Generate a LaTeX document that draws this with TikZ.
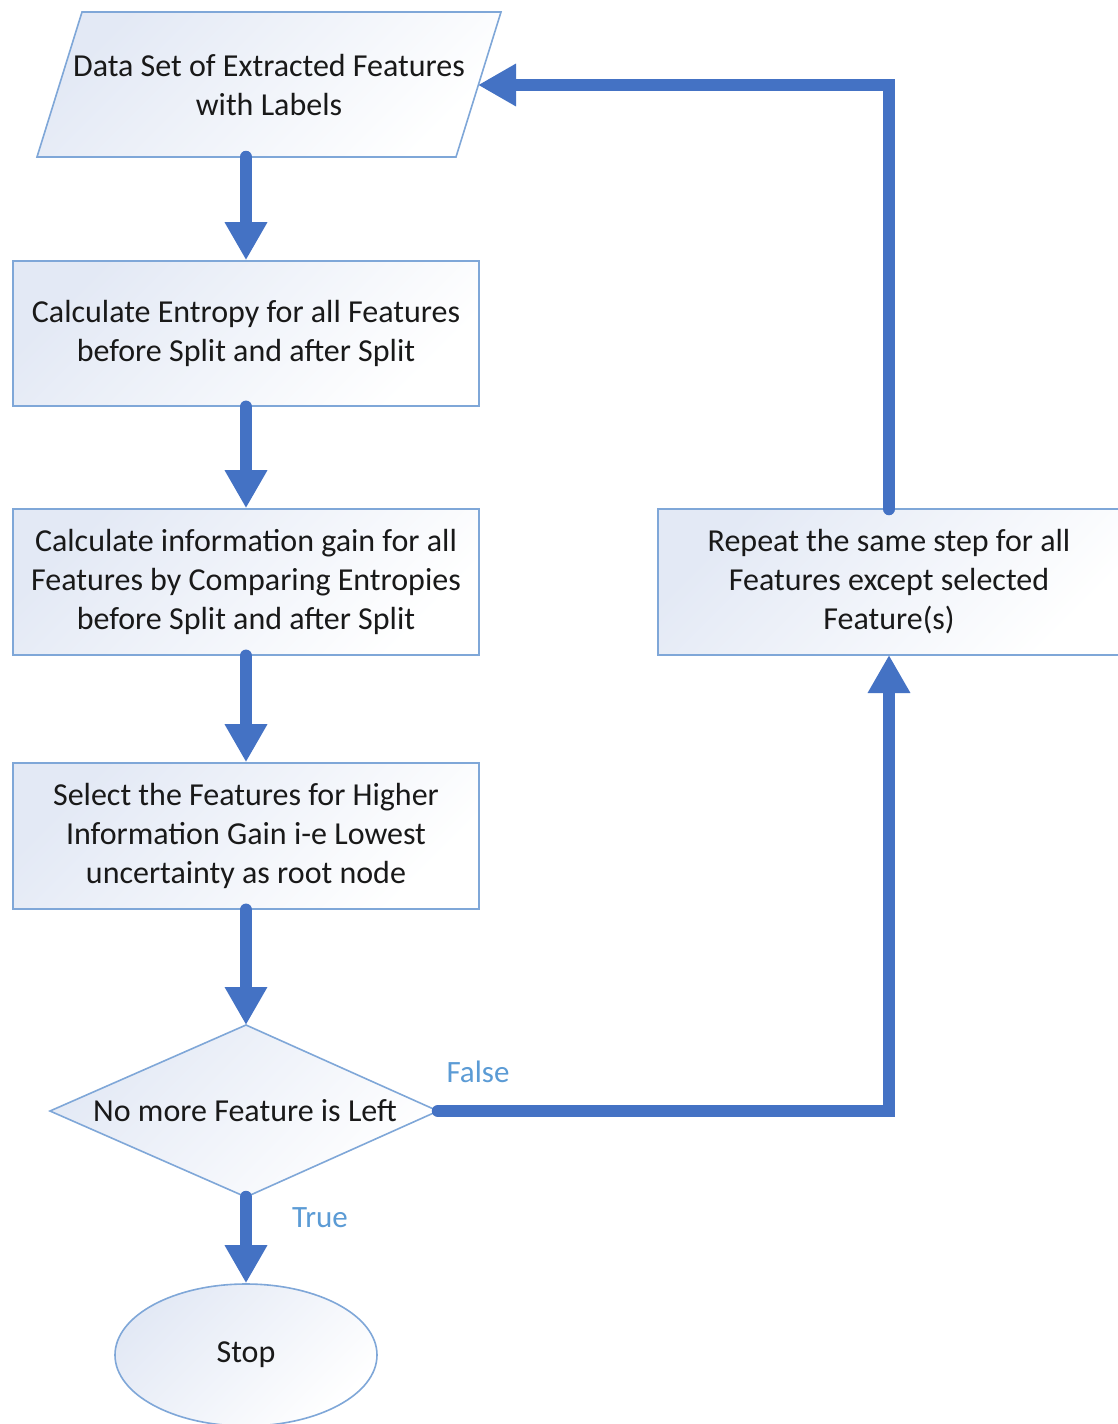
\documentclass[tikz,border=0pt]{standalone}
\usepackage{fontspec}
\setmainfont{Carlito}
\usetikzlibrary{arrows.meta,shapes.geometric}
\definecolor{arrowblue}{HTML}{4472C4}
\definecolor{edgeblue}{HTML}{7FA7D8}
\definecolor{fillblue}{HTML}{E3E9F5}
\definecolor{labelblue}{HTML}{5B9BD5}
\tikzset{
  shapefill/.style={draw=edgeblue, line width=1.6pt, top color=fillblue, bottom color=white, shading angle=45},
  txt/.style={align=center, font=\fontsize{32}{39}\selectfont, text=black!90},
  flow/.style={draw=arrowblue, line width=12.5pt, line cap=round, line join=miter,
    -{Triangle[width=40pt,length=38pt]}},
  lbl/.style={font=\fontsize{31}{34}\selectfont, text=labelblue}
}
\begin{document}
\begin{tikzpicture}[x=1pt,y=-1pt]
\clip (0,0) rectangle (1118,1424);
\fill[white] (0,0) rectangle (1118,1424);
% parallelogram
\path[shapefill] (82,12) -- (501,12) -- (456,157) -- (37,157) -- cycle;
\node[txt] (data) at (269,85) {Data Set of Extracted Features\\with Labels};
\coordinate (dataS) at (246,157);
\coordinate (dataE) at (478,85);
% boxes
\node[shapefill, rectangle, minimum width=466pt, minimum height=145pt, inner sep=0pt] (ent) at (246,333.5) {};
\node[txt] at (ent) {Calculate Entropy for all Features\\before Split and after Split};
\node[shapefill, rectangle, minimum width=466pt, minimum height=146pt, inner sep=0pt] (gain) at (246,582) {};
\node[txt] at (gain) {Calculate information gain for all\\Features by Comparing Entropies\\before Split and after Split};
\node[shapefill, rectangle, minimum width=466pt, minimum height=146pt, inner sep=0pt] (sel) at (246,836) {};
\node[txt] at (sel) {Select the Features for Higher\\Information Gain i-e Lowest\\uncertainty as root node};
\node[shapefill, rectangle, minimum width=470pt, minimum height=146pt, inner sep=0pt, anchor=west] (rep) at (657,582) {};
\node[txt] at (889,582) {Repeat the same step for all\\Features except selected\\Feature(s)};
\coordinate (repS) at (889,655);
\coordinate (repN) at (889,509);
% diamond
\path[shapefill] (246,1025) -- (438,1111) -- (246,1197) -- (50,1111) -- cycle;
\node[txt] (dec) at (245,1111) {No more Feature is Left};
\coordinate (decN) at (246,1025);
\coordinate (decE) at (438,1111);
\coordinate (decS) at (246,1197);
% ellipse
\node[shapefill, ellipse, minimum width=262pt, minimum height=142pt, inner sep=0pt] (stop) at (246,1355) {};
\node[txt] at (stop) {Stop};
% connectors
\draw[flow] (dataS) -- (ent.north);
\draw[flow] (ent.south) -- (gain.north);
\draw[flow] (gain.south) -- (sel.north);
\draw[flow] (sel.south) -- (decN);
\draw[flow] (decS) -- (stop.north);
\draw[flow] (decE) -- (889,1111) -- (repS);
\draw[flow] (repN) -- (889,85) -- (dataE);
% labels
\node[lbl] (f) at (478,1072) {False};
\node[lbl] (t) at (320,1218) {True};
\end{tikzpicture}
\end{document}
